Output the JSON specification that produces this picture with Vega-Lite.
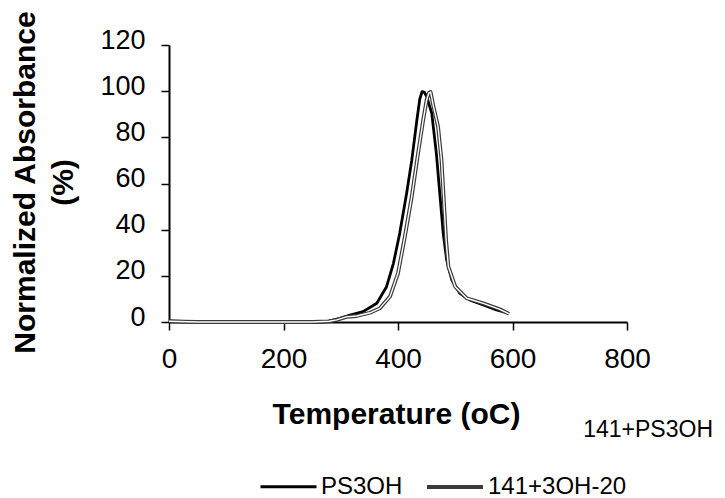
{
  "$schema": "https://vega.github.io/schema/vega-lite/v6.json",
  "width": 458,
  "height": 277,
  "autosize": {"type": "none"},
  "padding": {"left": 169, "top": 45, "right": 98, "bottom": 176},
  "background": "white",
  "config": {
    "view": {"stroke": null},
    "font": "Liberation Sans",
    "axis": {"grid": false, "labelFlush": false, "domainColor": "black", "domainWidth": 2, "tickColor": "black", "tickWidth": 1.5, "tickSize": 8, "labelColor": "black", "titleColor": "black", "labelFont": "Liberation Sans", "titleFont": "Liberation Sans"}
  },
  "title": {"text": "141+PS3OH", "orient": "bottom", "anchor": "end", "frame": "group", "fontSize": 23, "fontWeight": "normal", "font": "Liberation Sans", "color": "black", "baseline": "alphabetic", "offset": -62, "dx": 86},
  "datasets": {
    "curves": [
      {"series": "PS3OH", "t": 0, "a": 0.5},
      {"series": "PS3OH", "t": 25, "a": 0.3},
      {"series": "PS3OH", "t": 50, "a": 0.1},
      {"series": "PS3OH", "t": 100, "a": 0},
      {"series": "PS3OH", "t": 200, "a": 0},
      {"series": "PS3OH", "t": 260, "a": 0},
      {"series": "PS3OH", "t": 275, "a": 0.2},
      {"series": "PS3OH", "t": 299, "a": 1.6},
      {"series": "PS3OH", "t": 316, "a": 3.0},
      {"series": "PS3OH", "t": 339, "a": 4.5},
      {"series": "PS3OH", "t": 363, "a": 8.1},
      {"series": "PS3OH", "t": 380, "a": 15.3},
      {"series": "PS3OH", "t": 392, "a": 25.4},
      {"series": "PS3OH", "t": 403, "a": 38.4},
      {"series": "PS3OH", "t": 415, "a": 55.7},
      {"series": "PS3OH", "t": 424, "a": 70},
      {"series": "PS3OH", "t": 433, "a": 87.5},
      {"series": "PS3OH", "t": 438, "a": 96.5},
      {"series": "PS3OH", "t": 442, "a": 99.8},
      {"series": "PS3OH", "t": 446, "a": 99.5},
      {"series": "PS3OH", "t": 450, "a": 97.8},
      {"series": "PS3OH", "t": 459, "a": 90.4},
      {"series": "PS3OH", "t": 467, "a": 73},
      {"series": "PS3OH", "t": 473, "a": 55.7},
      {"series": "PS3OH", "t": 479, "a": 38.4},
      {"series": "PS3OH", "t": 485, "a": 26.9},
      {"series": "PS3OH", "t": 494, "a": 18.2},
      {"series": "PS3OH", "t": 508, "a": 12.4},
      {"series": "PS3OH", "t": 526, "a": 9.5},
      {"series": "PS3OH", "t": 549, "a": 7.4},
      {"series": "PS3OH", "t": 572, "a": 5.2},
      {"series": "PS3OH", "t": 593, "a": 3.8},
      {"series": "141+3OH-20", "t": 0, "a": 0.3},
      {"series": "141+3OH-20", "t": 50, "a": 0},
      {"series": "141+3OH-20", "t": 150, "a": 0},
      {"series": "141+3OH-20", "t": 250, "a": 0},
      {"series": "141+3OH-20", "t": 280, "a": 0.3},
      {"series": "141+3OH-20", "t": 293, "a": 0.9},
      {"series": "141+3OH-20", "t": 310, "a": 2.2},
      {"series": "141+3OH-20", "t": 328, "a": 2.6},
      {"series": "141+3OH-20", "t": 351, "a": 4},
      {"series": "141+3OH-20", "t": 368, "a": 5.9},
      {"series": "141+3OH-20", "t": 386, "a": 11},
      {"series": "141+3OH-20", "t": 400, "a": 21.1},
      {"series": "141+3OH-20", "t": 412, "a": 37},
      {"series": "141+3OH-20", "t": 424, "a": 54.3},
      {"series": "141+3OH-20", "t": 435, "a": 73},
      {"series": "141+3OH-20", "t": 444, "a": 87.5},
      {"series": "141+3OH-20", "t": 450, "a": 96.2},
      {"series": "141+3OH-20", "t": 454, "a": 99.3},
      {"series": "141+3OH-20", "t": 457, "a": 99.6},
      {"series": "141+3OH-20", "t": 462, "a": 93.3},
      {"series": "141+3OH-20", "t": 470, "a": 84.6},
      {"series": "141+3OH-20", "t": 476, "a": 70},
      {"series": "141+3OH-20", "t": 480, "a": 52.9},
      {"series": "141+3OH-20", "t": 484, "a": 35.5},
      {"series": "141+3OH-20", "t": 488, "a": 24},
      {"series": "141+3OH-20", "t": 500, "a": 15.3},
      {"series": "141+3OH-20", "t": 520, "a": 10.3},
      {"series": "141+3OH-20", "t": 549, "a": 8.1},
      {"series": "141+3OH-20", "t": 578, "a": 5.5},
      {"series": "141+3OH-20", "t": 594, "a": 3.5}
    ]
  },
  "data": {"name": "curves"},
  "encoding": {
    "x": {
      "field": "t", "type": "quantitative",
      "scale": {"domain": [0, 800], "nice": false},
      "axis": {"values": [0, 200, 400, 600, 800], "labelFontSize": 28, "labelPadding": 15, "title": "Temperature (oC)", "titleFontSize": 30, "titleFontWeight": "bold", "titleBaseline": "alphabetic", "titleY": 101, "titleX": 227}
    },
    "y": {
      "field": "a", "type": "quantitative",
      "scale": {"domain": [0, 120], "nice": false},
      "axis": {"values": [0, 20, 40, 60, 80, 100, 120], "labelFontSize": 27, "labelPadding": 16, "labelOffset": -5, "labelBaseline": "middle", "title": ["Normalized Absorbance", "(%)"], "titleFontSize": 30, "titleFontWeight": "bold", "titleBaseline": "alphabetic", "titleLineHeight": 38, "titleX": -135, "titleY": 137, "titleAngle": 270}
    }
  },
  "layer": [
    {
      "mark": {"type": "line", "strokeJoin": "round"},
      "encoding": {
        "order": {"field": "t", "type": "quantitative"},
        "color": {
          "field": "series", "type": "nominal",
          "scale": {"domain": ["PS3OH", "141+3OH-20"], "range": ["black", "#3a3a3a"]},
          "legend": {"title": null, "orient": "none", "direction": "horizontal", "legendX": 90, "legendY": 412, "symbolType": "stroke", "symbolSize": 3136, "labelFontSize": 24, "labelFont": "Liberation Sans", "labelColor": "black", "labelOffset": 3, "columnPadding": 16, "padding": 0}
        },
        "strokeWidth": {
          "field": "series", "type": "nominal",
          "scale": {"domain": ["PS3OH", "141+3OH-20"], "range": [2.8, 3.8]},
          "legend": {"title": null, "orient": "none", "direction": "horizontal", "legendX": 90, "legendY": 412, "symbolType": "stroke", "symbolSize": 3136, "labelFontSize": 24, "labelFont": "Liberation Sans", "labelColor": "black", "labelOffset": 3, "columnPadding": 16, "padding": 0}
        }
      }
    },
    {
      "transform": [{"filter": "datum.series === '141+3OH-20'"}],
      "mark": {"type": "line", "color": "white", "strokeWidth": 1.4, "strokeJoin": "round"},
      "encoding": {"order": {"field": "t", "type": "quantitative"}}
    }
  ]
}
